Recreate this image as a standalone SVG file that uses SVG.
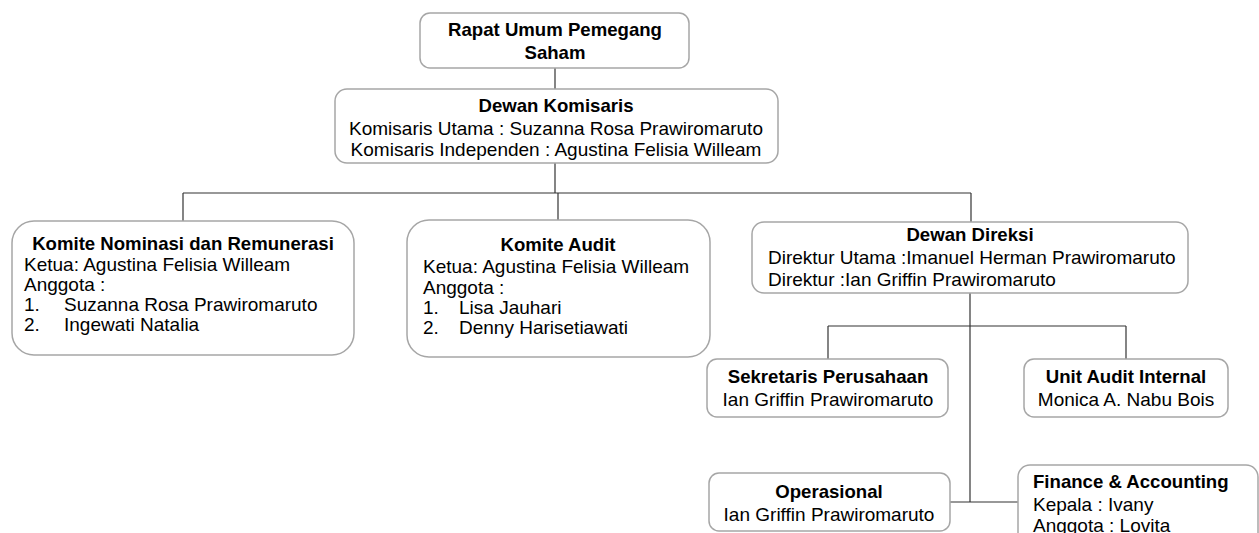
<svg xmlns="http://www.w3.org/2000/svg" width="1259" height="533" viewBox="0 0 1259 533">
<style>
.box{fill:#fff;stroke:#a6a6a6;stroke-width:1.5}
.t{font-family:"Liberation Sans",Arial,sans-serif;font-size:19px;fill:#000}
.b{font-weight:bold;font-size:18.6px}
.c{text-anchor:middle}
.ln{stroke:#333;stroke-width:1.2;fill:none}
</style>
<rect width="1259" height="533" fill="#fff"/>
<g id="connectors">
<path class="ln" d="M555 68V89"/>
<path class="ln" d="M555 163V193"/>
<path class="ln" d="M183 193H971"/>
<path class="ln" d="M183 193V221"/>
<path class="ln" d="M558 193V220"/>
<path class="ln" d="M971 193V222"/>
<path class="ln" d="M970 293V502"/>
<path class="ln" d="M828 326H1126"/>
<path class="ln" d="M828 326V359"/>
<path class="ln" d="M1126 326V359"/>
<path class="ln" d="M950 502H1018"/>
</g>
<g id="rups">
<rect class="box" x="420" y="13" width="269" height="55" rx="10"/>
<text class="t b c" x="555" y="36">Rapat Umum Pemegang</text>
<text class="t b c" x="555" y="59">Saham</text>
</g>
<g id="komisaris">
<rect class="box" x="335" y="89" width="443" height="74" rx="12"/>
<text class="t b c" x="556" y="112">Dewan Komisaris</text>
<text class="t c" x="556" y="135">Komisaris Utama : Suzanna Rosa Prawiromaruto</text>
<text class="t c" x="556" y="156">Komisaris Independen : Agustina Felisia Willeam</text>
</g>
<g id="nominasi">
<rect class="box" x="12" y="221" width="342" height="134" rx="22"/>
<text class="t b c" x="183" y="250">Komite Nominasi dan Remunerasi</text>
<text class="t" x="24" y="271">Ketua: Agustina Felisia Willeam</text>
<text class="t" x="24" y="291">Anggota :</text>
<text class="t" x="24" y="311">1.</text>
<text class="t" x="64" y="311">Suzanna Rosa Prawiromaruto</text>
<text class="t" x="24" y="331">2.</text>
<text class="t" x="64" y="331">Ingewati Natalia</text>
</g>
<g id="audit">
<rect class="box" x="407" y="220" width="303" height="137" rx="22"/>
<text class="t b c" x="558" y="251">Komite Audit</text>
<text class="t" x="423" y="273">Ketua: Agustina Felisia Willeam</text>
<text class="t" x="423" y="294">Anggota :</text>
<text class="t" x="423" y="314">1.</text>
<text class="t" x="459" y="314">Lisa Jauhari</text>
<text class="t" x="423" y="334">2.</text>
<text class="t" x="459" y="334">Denny Harisetiawati</text>
</g>
<g id="direksi">
<rect class="box" x="752" y="222" width="436" height="71" rx="12"/>
<text class="t b c" x="970" y="241">Dewan Direksi</text>
<text class="t" x="768" y="264">Direktur Utama :Imanuel Herman Prawiromaruto</text>
<text class="t" x="768" y="286">Direktur :Ian Griffin Prawiromaruto</text>
</g>
<g id="sekretaris">
<rect class="box" x="707" y="359" width="241" height="58" rx="10"/>
<text class="t b c" x="828" y="383">Sekretaris Perusahaan</text>
<text class="t c" x="828" y="406">Ian Griffin Prawiromaruto</text>
</g>
<g id="sai">
<rect class="box" x="1024" y="359" width="204" height="58" rx="10"/>
<text class="t b c" x="1126" y="383">Unit Audit Internal</text>
<text class="t c" x="1126" y="406">Monica A. Nabu Bois</text>
</g>
<g id="operasional">
<rect class="box" x="709" y="473" width="241" height="58" rx="10"/>
<text class="t b c" x="829" y="498">Operasional</text>
<text class="t c" x="829" y="521">Ian Griffin Prawiromaruto</text>
</g>
<g id="finance">
<rect class="box" x="1018" y="465" width="240" height="85" rx="12"/>
<text class="t b" x="1033" y="488">Finance &amp; Accounting</text>
<text class="t" x="1033" y="511">Kepala : Ivany</text>
<text class="t" x="1033" y="532">Anggota : Lovita</text>
</g>
</svg>
